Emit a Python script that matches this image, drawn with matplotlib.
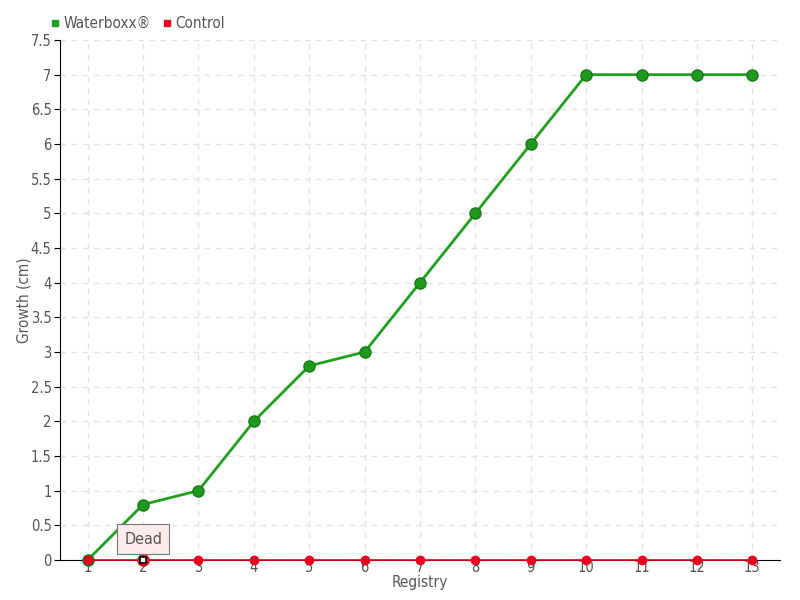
import matplotlib
matplotlib.use("Agg")
import matplotlib.pyplot as plt
import numpy as np

registry = list(range(1, 14))
waterboxx = [0, 0.8, 1, 2, 2.8, 3, 4, 5, 6, 7, 7, 7, 7]
control = [0] * 13
y_ticks = np.arange(0, 7.51, 0.5)

text_color = "#555555"
green = "#1fa01f"
red = "#e8001c"

plt.rcParams["font.family"] = ["DejaVu Sans"]
plt.rcParams["font.stretch"] = "condensed"

fig = plt.figure(figsize=(8, 6), dpi=100)
ax = fig.add_axes([0.075, 0.0667, 0.9, 0.8666])

ax.plot(registry, waterboxx, "-o", color=green, lw=2, ms=8, clip_on=False,
        markerfacecolor="#1f9a1f", markeredgecolor="#177a17", zorder=3, label="Waterboxx®")
ax.plot(registry, control, "-o", color=red, lw=1.2, ms=6, clip_on=False,
        markerfacecolor=red, markeredgecolor=red, zorder=4, label="Control")

# highlighted "Dead" point
ax.plot([registry[1]], [control[1]], "o", ms=8, color=red, clip_on=False, zorder=5)
ax.plot([registry[1]], [control[1]], "s", ms=5, markerfacecolor="white", clip_on=False,
        markeredgecolor="black", mew=1.2, zorder=6)
ax.annotate("Dead", xy=(registry[1], control[1]), xytext=(0, 15),
            textcoords="offset points", ha="center", va="center",
            fontsize=11.5, color=text_color,
            bbox=dict(boxstyle="square,pad=0.45", fc="#fdeaea", ec="#777777", lw=0.8),
            zorder=7, annotation_clip=False)

ax.set_xlim(0.5, 13.5)
ax.set_ylim(0, 7.5)
ax.set_xticks(registry)
ax.set_yticks(y_ticks)
ax.set_yticklabels([f"{v:g}" for v in y_ticks])
ax.grid(True, color="#e2e2e2", ls=(0, (4, 4)), lw=1)
ax.set_axisbelow(True)

for s in ["top", "right"]:
    ax.spines[s].set_visible(False)
ax.spines["left"].set_color("black")
ax.spines["bottom"].set_color("black")
ax.spines["bottom"].set_zorder(2)
ax.tick_params(axis="both", colors=text_color, labelsize=10.5, length=4, direction="out")
ax.tick_params(axis="y", color="black", pad=2)
ax.tick_params(axis="x", length=0, pad=0)

ax.set_xlabel("Registry", color=text_color, fontsize=11, labelpad=0)
ax.set_ylabel("Growth (cm)", color=text_color, fontsize=11)
ax.yaxis.set_label_coords(-0.039, 0.5)

ax.legend(loc="lower left", bbox_to_anchor=(-0.025, 1.0), ncol=2, frameon=False,
          handlelength=0.5, handletextpad=0.3, columnspacing=0.8, fontsize=11,
          labelcolor=text_color, borderaxespad=0.2,
          handles=[plt.Line2D([], [], ls="", marker="s", ms=5, color=green, label="Waterboxx®"),
                   plt.Line2D([], [], ls="", marker="s", ms=5, color=red, label="Control")])

fig.savefig("out.png", dpi=100)
